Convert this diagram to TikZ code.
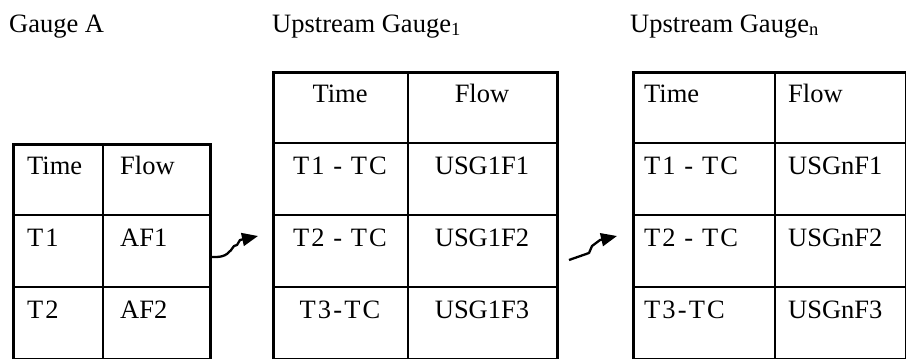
\documentclass[tikz,border=0pt]{standalone}
\usepackage{fontspec}
\setmainfont{Liberation Serif}
\usetikzlibrary{arrows.meta}
\newcommand\tabfont{\fontsize{26.5}{30}\selectfont}
\begin{document}
\begin{tikzpicture}[x=1pt,y=-1pt,
  tbl/.style={draw, line width=2.8pt, inner sep=0pt, anchor=north west},
  rule/.style={line width=2.8pt},
  lt/.style={anchor=base west, inner sep=0pt, font=\tabfont},
  ct/.style={anchor=base, inner sep=0pt, font=\tabfont},
  tsp/.style={font=\tabfont\addfontfeature{LetterSpace=8}},
  title/.style={anchor=base west, inner sep=0pt, font=\tabfont},
  link/.style={line width=2.3pt, line join=round, -{Triangle[length=16pt,width=13pt]}}]
\useasboundingbox (0,0) rectangle (906,359);

% headings
\node[title] (hA) at (9,32) {Gauge A};
\node[title] (hB) at (272,32) {Upstream Gauge\textsubscript{1}};
\node[title] (hN) at (630,32) {Upstream Gauge\textsubscript{n}};

% Gauge A table
\node[tbl, minimum width=197pt, minimum height=215pt] (gA) at (12,143) {};
\draw[rule] (103,143) -- (103,358);
\draw[rule] (12,215) -- (209,215);
\draw[rule] (12,287) -- (209,287);
\node[lt] (a11) at (27,174) {Time};
\node[lt] (a12) at (120,174) {Flow};
\node[lt,tsp] (a21) at (27,246) {T1};
\node[lt] (a22) at (120,246) {AF1};
\node[lt,tsp] (a31) at (27,318) {T2};
\node[lt] (a32) at (120,318) {AF2};

% Upstream gauge 1 table
\node[tbl, minimum width=284pt, minimum height=287pt] (gB) at (272,71) {};
\draw[rule] (408,71) -- (408,358);
\draw[rule] (272,143) -- (556,143);
\draw[rule] (272,215) -- (556,215);
\draw[rule] (272,287) -- (556,287);
\node[ct] (b11) at (340,102) {Time};
\node[ct] (b12) at (482,102) {Flow};
\node[ct,tsp] (b21) at (340,174) {T1 - TC};
\node[ct] (b22) at (482,174) {USG1F1};
\node[ct,tsp] (b31) at (340,246) {T2 - TC};
\node[ct] (b32) at (482,246) {USG1F2};
\node[ct,tsp] (b41) at (340,318) {T3-TC};
\node[ct] (b42) at (482,318) {USG1F3};

% Upstream gauge n table
\node[tbl, minimum width=273pt, minimum height=287pt] (gN) at (632,71) {};
\draw[rule] (775,71) -- (775,358);
\draw[rule] (632,143) -- (905,143);
\draw[rule] (632,215) -- (905,215);
\draw[rule] (632,287) -- (905,287);
\node[lt] (n11) at (644,102) {Time};
\node[lt] (n12) at (788,102) {Flow};
\node[lt,tsp] (n21) at (644,174) {T1 - TC};
\node[lt] (n22) at (788,174) {USGnF1};
\node[lt,tsp] (n31) at (644,246) {T2 - TC};
\node[lt] (n32) at (788,246) {USGnF2};
\node[lt,tsp] (n41) at (644,318) {T3-TC};
\node[lt] (n42) at (788,318) {USGnF3};

% connectors
\coordinate (y1) at (0,257);
\coordinate (tip1) at (258,236);
\draw[link] (gA.east |- y1) -- (216,257) .. controls (226,257) and (230,252) .. (234,246)
  -- (237,245) -- (240,240) -- (tip1);
\coordinate (tail2) at (569,260);
\coordinate (tip2) at (617,236);
\draw[link] (tail2) -- (589,253) -- (592,246) -- (600,240) -- (tip2);
\end{tikzpicture}
\end{document}
